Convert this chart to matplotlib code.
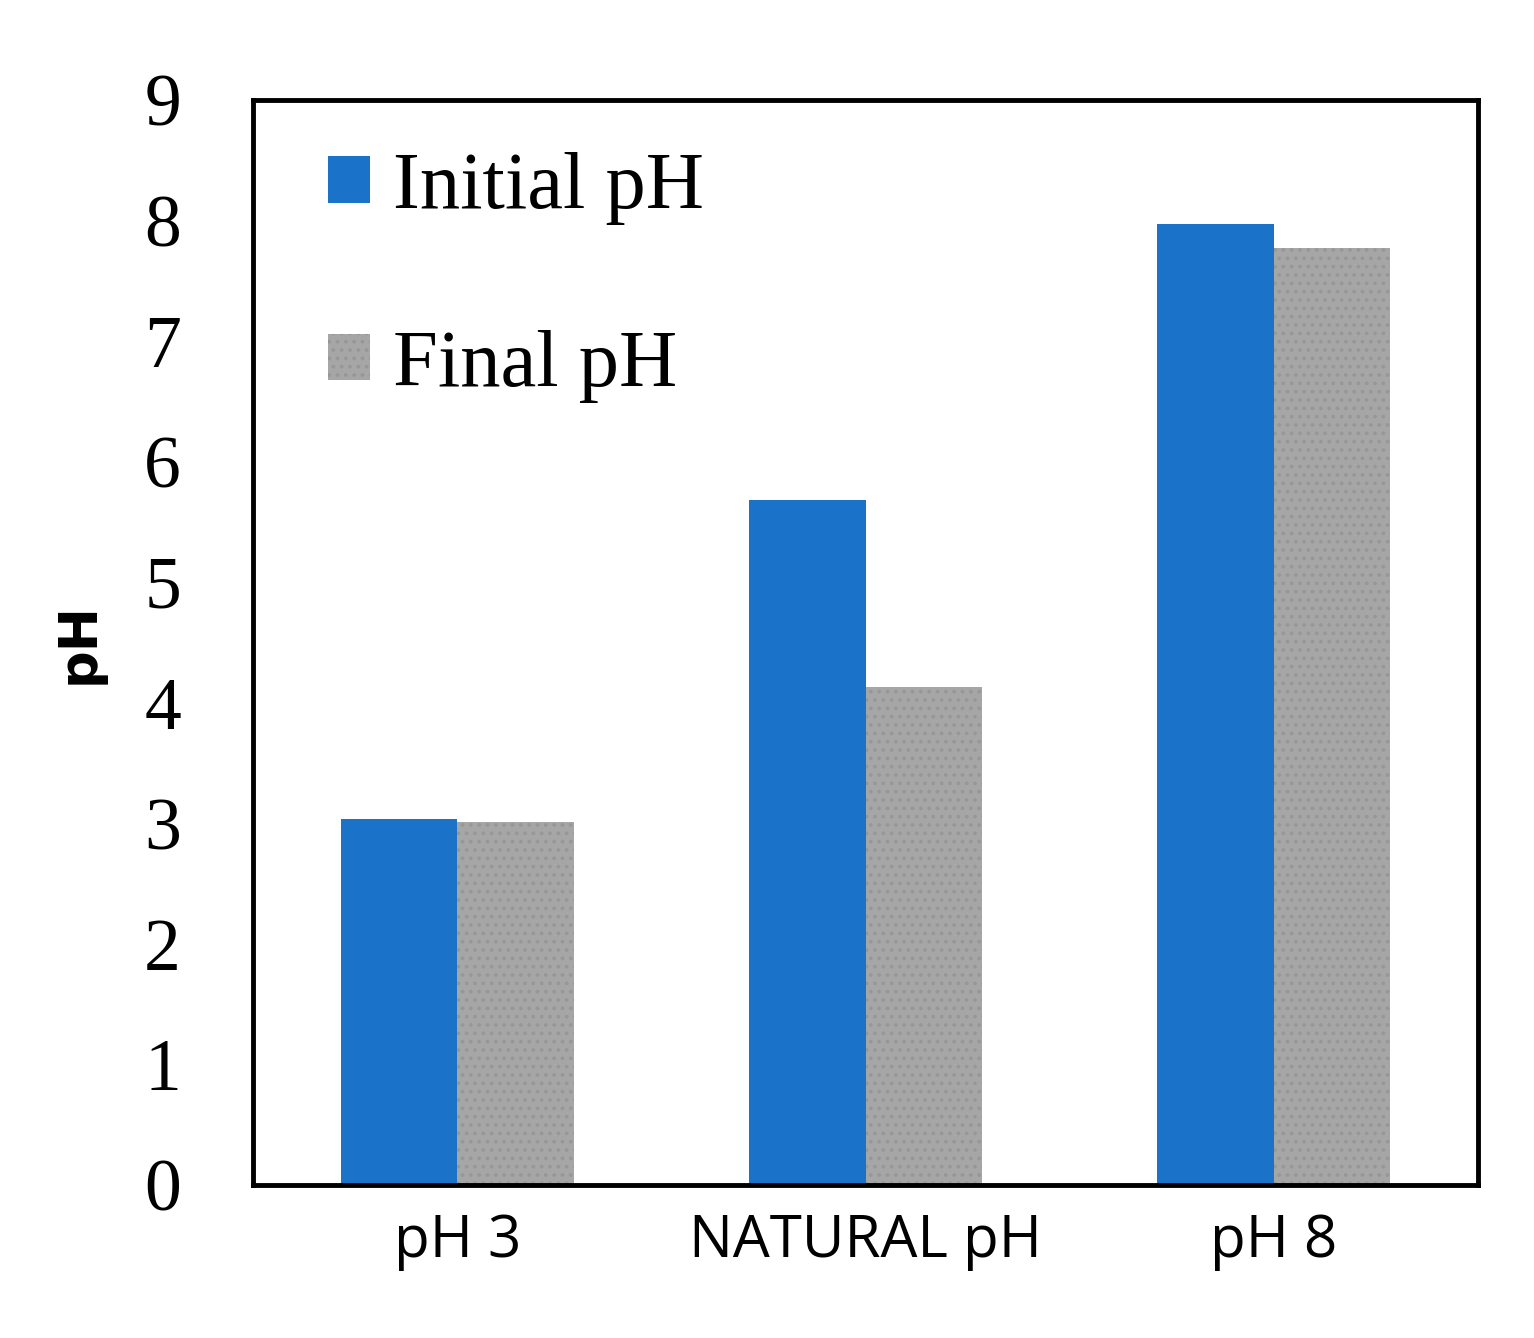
import matplotlib.pyplot as plt
import numpy as np

categories = ['pH 3', 'NATURAL pH', 'pH 8']
initial_ph = [3.04, 5.68, 7.97]
final_ph = [3.01, 4.13, 7.77]
y_ticks = list(range(0, 10))

plt.rcParams['hatch.color'] = '#979797'
plt.rcParams['hatch.linewidth'] = 1.5

fig = plt.figure(figsize=(15.34, 13.38), dpi=100)
ax = fig.add_axes([0.165, 0.1143, 0.7985, 0.811])

x = np.arange(len(categories))
w = 0.285
ax.bar(x - w / 2, initial_ph, w, color='#1A73C8', label='Initial pH')
ax.bar(x + w / 2, final_ph, w, color='#A6A6A6', hatch='..', linewidth=0,
       label='Final pH')

ax.set_xlim(-0.5, 2.5)
ax.set_ylim(0, 9)
ax.set_yticks(y_ticks)
ax.set_yticklabels([str(t) for t in y_ticks], family='Liberation Serif', fontsize=53)
ax.set_xticks(x)
ax.set_xticklabels(categories, family='Open Sans', fontsize=42)
ax.tick_params(axis='both', length=0)
ax.tick_params(axis='y', pad=52)
ax.tick_params(axis='x', pad=20)

for s in ax.spines.values():
    s.set_linewidth(3.5)
    s.set_color('black')

ax.set_ylabel('pH', family='DejaVu Sans', fontweight='bold', fontsize=38, labelpad=28)

leg = ax.legend(loc='upper left', bbox_to_anchor=(0.002, 1.019), frameon=False,
                prop={'family': 'Liberation Serif', 'size': 58},
                handlelength=0.52, handleheight=0.52, handletextpad=0.29,
                labelspacing=1.3)

fig.savefig('out.png', dpi=100)
